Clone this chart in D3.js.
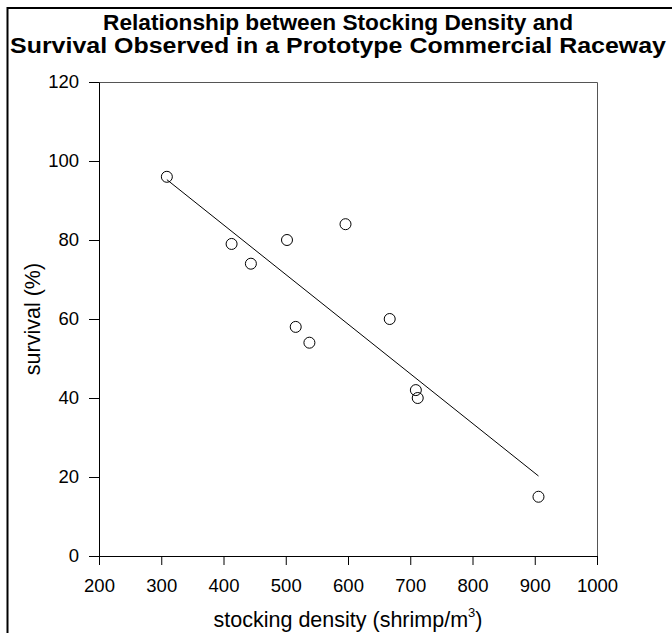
<!DOCTYPE html>
<meta charset="utf-8">
<title>Stocking Density and Survival</title>
<style>
body { margin: 0; background: #fff; }
text { font-family: "Liberation Sans", Arial, sans-serif; fill: #000; }
</style>
<body>
<svg width="672" height="633"></svg>
<script src="https://d3js.org/d3.v7.min.js"></script>
<script>
// data
var density = [309, 413, 444, 502, 596, 516, 538, 667, 709, 712, 906];
var survival = [96, 79, 74, 80, 84, 58, 54, 60, 42, 40, 15];
var xTicks = [200, 300, 400, 500, 600, 700, 800, 900, 1000];
var yTicks = [0, 20, 40, 60, 80, 100, 120];

var svg = d3.select("svg"),
    margin = {top: 82, right: 75, bottom: 77, left: 99},
    width = 672 - margin.left - margin.right,
    height = 633 - margin.top - margin.bottom;

// outer frame (only the top and left edges are inside the picture)
svg.append("path")
    .attr("d", "M7.5,640V8H680")
    .attr("fill", "none")
    .attr("stroke", "#000")
    .attr("stroke-width", 2);

// title, glyphs widened a little to match the original's wide bold face
svg.append("text")
    .attr("x", 338).attr("y", 30)
    .attr("text-anchor", "middle")
    .attr("font-weight", "bold")
    .attr("font-size", 21.5)
    .attr("textLength", 470)
    .attr("lengthAdjust", "spacingAndGlyphs")
    .text("Relationship between Stocking Density and");
svg.append("text")
    .attr("x", 338).attr("y", 53)
    .attr("text-anchor", "middle")
    .attr("font-weight", "bold")
    .attr("font-size", 21.5)
    .attr("textLength", 656)
    .attr("lengthAdjust", "spacingAndGlyphs")
    .text("Survival Observed in a Prototype Commercial Raceway");

var g = svg.append("g").attr("transform", "translate(" + margin.left + "," + margin.top + ")");

var x = d3.scaleLinear().domain([200, 1000]).range([0, width]);
var y = d3.scaleLinear().domain([0, 120]).range([height, 0]);

// top and right frame of plot
g.append("path")
    .attr("d", "M0,0.5H" + (width + 0.5) + "V" + height)
    .attr("fill", "none")
    .attr("stroke", "#555");

var xAxis = g.append("g")
    .attr("transform", "translate(0," + height + ")")
    .call(d3.axisBottom(x).tickValues(xTicks).tickFormat(d3.format("d"))
      .tickSize(9).tickPadding(14).tickSizeOuter(0));
var yAxis = g.append("g")
    .call(d3.axisLeft(y).tickValues(yTicks).tickFormat(d3.format("d"))
      .tickSize(10).tickPadding(10).tickSizeOuter(0));

[xAxis, yAxis].forEach(function(a) {
  a.attr("font-family", null).attr("font-size", null);
  a.selectAll("text").attr("font-size", 18.5).attr("fill", "#000");
  a.selectAll("line, path").attr("stroke", "#000");
});

// regression line over the observed range
var mx = d3.mean(density), my = d3.mean(survival);
var sxy = d3.sum(density, function(d, i) { return (d - mx) * (survival[i] - my); });
var sxx = d3.sum(density, function(d) { return (d - mx) * (d - mx); });
var slope = sxy / sxx, icpt = my - slope * mx;
var x0 = d3.min(density), x1 = d3.max(density);

g.append("line")
    .attr("x1", x(x0)).attr("y1", y(icpt + slope * x0))
    .attr("x2", x(x1)).attr("y2", y(icpt + slope * x1))
    .attr("stroke", "#000")
    .attr("stroke-width", 1);

g.selectAll("circle")
    .data(density)
  .enter().append("circle")
    .attr("cx", function(d) { return x(d); })
    .attr("cy", function(d, i) { return y(survival[i]); })
    .attr("r", 5.5)
    .attr("fill", "none")
    .attr("stroke", "#000");

// axis titles
var xt = svg.append("text")
    .attr("x", margin.left + width / 2)
    .attr("y", 627)
    .attr("text-anchor", "middle")
    .attr("font-size", 21.5)
    .text("stocking density (shrimp/m");
xt.append("tspan").attr("font-size", 13).attr("dy", -10).text("3");
xt.append("tspan").attr("dy", 10).text(")");

svg.append("text")
    .attr("transform", "translate(40," + (margin.top + height / 2) + ")rotate(-90)")
    .attr("text-anchor", "middle")
    .attr("font-size", 21.5)
    .text("survival (%)");
</script>
</body>
